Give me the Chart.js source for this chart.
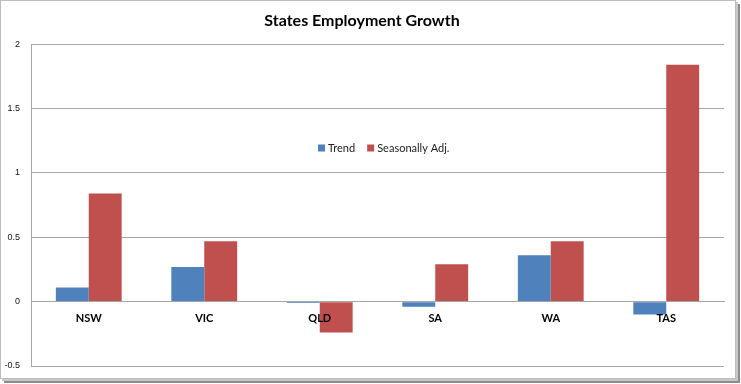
<!DOCTYPE html>
<html>
<head>
<meta charset="utf-8">
<script src="https://cdn.jsdelivr.net/npm/chart.js@4"></script>
<style>
    body { margin: 0; background: #fff; }
    #frame {
        position: absolute; left: 0; top: 0;
        width: 734px; height: 377px;
        border: 1px solid #bdbdbd;
        box-shadow: 2px 2px 0 #c8c8c8, 4px 4px 0 #8c8c8c;
        background: #fff;
    }
    #wrap { position: absolute; left: 0; top: 0; width: 741px; height: 384px; }
</style>
</head>
<body>
<div id="frame"></div>
<div id="wrap"><canvas id="growthChart" width="741" height="384"></canvas></div>
<script>
// chart data
const states = ['NSW', 'VIC', 'QLD', 'SA', 'WA', 'TAS'];
const trend = [0.11, 0.27, -0.01, -0.04, 0.36, -0.10];
const seasonallyAdj = [0.84, 0.47, -0.24, 0.29, 0.47, 1.84];
const yTicks = [-0.5, 0, 0.5, 1, 1.5, 2];

const blue = '#4F81BD';
const red = '#C0504D';

// legend sits in the middle of the plot, like the Excel original
const midLegend = {
    id: 'midLegend',
    afterDraw(chart) {
        const ctx = chart.ctx;
        const items = chart.data.datasets.map(ds => ({ text: ds.label, color: ds.backgroundColor }));
        ctx.save();
        ctx.font = '11px Lato, "Liberation Sans", sans-serif';
        ctx.textBaseline = 'middle';
        const box = 7, gap = 3, spacing = 12;
        let x = 318;
        const y = 148;
        items.forEach(it => {
            ctx.fillStyle = it.color;
            ctx.fillRect(x, y - box / 2, box, box);
            x += box + gap;
            ctx.fillStyle = '#222';
            ctx.fillText(it.text, x, y + 0.5);
            x += ctx.measureText(it.text).width + spacing;
        });
        ctx.restore();
    }
};

new Chart(document.getElementById('growthChart').getContext('2d'), {
    type: 'bar',
    data: {
        labels: states,
        datasets: [
            { label: 'Trend', data: trend, backgroundColor: blue },
            { label: 'Seasonally Adj.', data: seasonallyAdj, backgroundColor: red }
        ]
    },
    options: {
        responsive: false,
        animation: false,
        categoryPercentage: 0.57,
        barPercentage: 1,
        layout: { padding: { left: 0, right: 17, bottom: 18, top: 0 } },
        plugins: {
            legend: { display: false },
            tooltip: { enabled: false },
            title: {
                display: true,
                text: 'States Employment Growth',
                color: '#000',
                font: { family: 'Lato, "Liberation Sans", sans-serif', size: 16, weight: 'bold' },
                padding: { top: 11, bottom: 14 }
            }
        },
        scales: {
            x: {
                position: { y: 0 },
                grid: { display: false, drawTicks: false },
                border: { display: true, color: '#a6a6a6', z: 1 },
                ticks: {
                    z: 1,
                    padding: 10,
                    color: '#000',
                    font: { family: 'Lato, "Liberation Sans", sans-serif', size: 11, weight: 'bold' }
                }
            },
            y: {
                min: -0.5,
                max: 2,
                afterFit(scale) { scale.width = 31; },
                afterBuildTicks(scale) { scale.ticks = yTicks.map(v => ({ value: v })); },
                grid: { color: '#a6a6a6', drawTicks: false },
                border: { display: true, color: '#a6a6a6' },
                ticks: {
                    padding: 11,
                    color: '#111',
                    font: { family: '"Liberation Sans", sans-serif', size: 9 },
                    callback: v => String(v)
                }
            }
        }
    },
    plugins: [midLegend]
});
</script>
</body>
</html>
